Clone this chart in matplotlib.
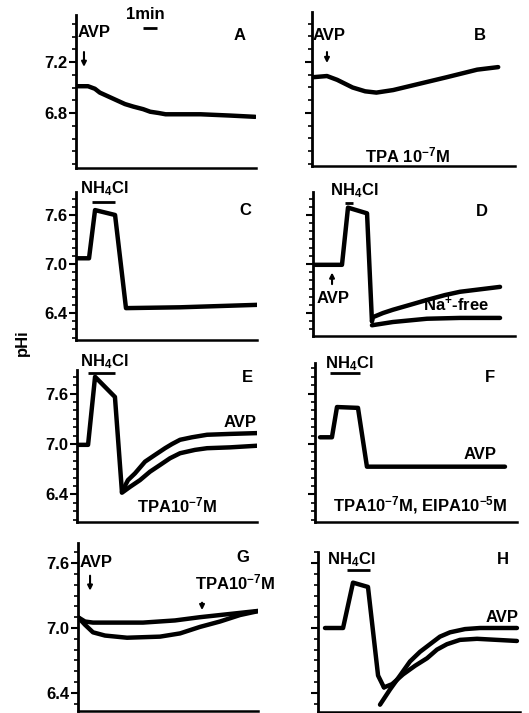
import matplotlib
matplotlib.use("Agg")
import matplotlib.pyplot as plt
from matplotlib.ticker import MultipleLocator

plt.rcParams['font.family'] = ['Liberation Sans', 'DejaVu Sans']
plt.rcParams['font.weight'] = 'bold'
plt.rcParams['mathtext.fontset'] = 'custom'
plt.rcParams['mathtext.rm'] = 'Liberation Sans:bold'
plt.rcParams['mathtext.it'] = 'Liberation Sans:bold'
plt.rcParams['mathtext.default'] = 'rm'
plt.rcParams['lines.solid_joinstyle'] = 'round'
plt.rcParams['lines.solid_capstyle'] = 'round'

# time in min, pH
a_t = [0.07, 0.86, 1.35, 1.7, 2.3, 2.9, 3.5, 4.1, 4.8, 5.3, 5.9, 6.4, 8.9, 11.0, 12.8]
a_ph = [7.01, 7.01, 6.99, 6.96, 6.93, 6.90, 6.87, 6.85, 6.83, 6.81, 6.80, 6.79, 6.79, 6.78, 6.77]

b_t = [0.0, 1.07, 1.8, 2.9, 3.8, 4.6, 5.8, 7.7, 9.6, 11.8, 13.3]
b_ph = [7.08, 7.09, 7.06, 7.00, 6.97, 6.96, 6.98, 7.03, 7.08, 7.14, 7.16]

c_t = [0.07, 0.93, 1.36, 2.79, 3.57, 7.43, 12.93]
c_ph = [7.07, 7.07, 7.66, 7.60, 6.46, 6.47, 6.50]

d_t = [0.14, 2.07, 2.5, 3.86, 4.21]
d_ph = [6.99, 6.99, 7.69, 7.62, 6.30]
d_avp_t = [4.21, 4.29, 5.0, 5.71, 6.93, 8.14, 9.43, 10.5, 11.93, 13.36]
d_avp_ph = [6.30, 6.35, 6.40, 6.44, 6.50, 6.56, 6.62, 6.66, 6.69, 6.72]
d_na_t = [4.21, 5.71, 8.14, 10.5, 13.36]
d_na_ph = [6.25, 6.29, 6.33, 6.34, 6.34]

e_t = [0.0, 0.79, 1.29, 2.71, 3.21]
e_ph = [6.99, 6.99, 7.80, 7.56, 6.43]
e_avp_t = [3.21, 3.64, 4.14, 4.86, 5.57, 6.29, 6.79, 7.36, 8.21, 9.29, 10.93, 12.93]
e_avp_ph = [6.43, 6.57, 6.65, 6.79, 6.87, 6.95, 7.00, 7.05, 7.08, 7.11, 7.12, 7.13]
e_tpa_t = [3.21, 3.79, 4.5, 5.21, 5.93, 6.64, 7.36, 8.43, 9.29, 10.93, 12.93]
e_tpa_ph = [6.42, 6.49, 6.57, 6.67, 6.75, 6.83, 6.89, 6.93, 6.95, 6.96, 6.98]

f_t = [0.36, 1.21, 1.57, 3.07, 3.71, 13.57]
f_ph = [7.08, 7.08, 7.44, 7.43, 6.73, 6.73]

g_t = [0.0, 0.5, 1.07, 4.64, 6.93, 8.71, 10.86, 13.0]
g_ph = [7.10, 7.06, 7.05, 7.05, 7.07, 7.10, 7.13, 7.16]
g_tpa_t = [0.0, 0.5, 1.07, 1.93, 3.5, 5.86, 7.29, 8.71, 10.14, 11.57, 13.0]
g_tpa_ph = [7.10, 7.03, 6.96, 6.93, 6.91, 6.92, 6.95, 7.01, 7.06, 7.12, 7.16]

h_t = [0.5, 1.79, 2.5, 3.57, 4.29, 4.71]
h_ph = [7.0, 7.0, 7.42, 7.38, 6.56, 6.45]
h_ctl_t = [4.71, 5.29, 6.07, 6.93, 7.79, 8.5, 9.21, 10.14, 11.36, 14.21]
h_ctl_ph = [6.45, 6.48, 6.57, 6.65, 6.72, 6.80, 6.85, 6.89, 6.90, 6.88]
h_avp_t = [4.43, 5.14, 5.86, 6.57, 7.29, 8.0, 8.71, 9.43, 10.5, 11.57, 14.21]
h_avp_ph = [6.29, 6.43, 6.56, 6.69, 6.78, 6.85, 6.92, 6.96, 6.99, 7.00, 7.00]

W, H = 529, 713
fig = plt.figure(figsize=(W / 100, H / 100), dpi=100)
LW = 3.2
FS = 12


def panel(L, T, R, B, y0, p0, k, ticks, labels=True):
    ax = fig.add_axes([L / W, 1 - B / H, (R - L) / W, (B - T) / H])
    ax.set_xlim(0, (R - L) / 14)
    ax.set_ylim(p0 - (B - y0) / k, p0 + (y0 - T) / k)
    for s in ['top', 'right']:
        ax.spines[s].set_visible(False)
    ax.spines['left'].set_linewidth(2)
    ax.spines['bottom'].set_linewidth(1.8)
    ax.set_xticks([])
    ax.set_yticks(ticks)
    ax.yaxis.set_minor_locator(MultipleLocator(0.1))
    ax.tick_params(axis='y', which='major', length=5, width=1.5, labelsize=FS, pad=1)
    ax.tick_params(axis='y', which='minor', length=3, width=1.2)
    if labels:
        ax.set_yticklabels([f'{v:.1f}' for v in ticks])
    else:
        ax.set_yticklabels([])
    ax.patch.set_alpha(0)
    return ax


def arrow(ax, t, y1, y2):
    ax.annotate('', xy=(t, y2), xytext=(t, y1),
                arrowprops=dict(arrowstyle='-|>', color='black', lw=1.5, mutation_scale=7))


def bar(ax, t1, t2, y):
    ax.plot([t1, t2], [y, y], color='black', lw=2, solid_capstyle='butt', clip_on=False)


kw = dict(fontsize=FS, fontweight='bold', va='center')

# A
ax = panel(76, 15, 256, 168, 62, 7.2, 127.5, [7.2, 6.8])
ax.plot(a_t, a_ph, color='black', lw=LW)
ax.text(0.14, 7.43, 'AVP', ha='left', **kw)
arrow(ax, 0.57, 7.30, 7.14)
ax.text(4.93, 7.57, '1min', ha='center', **kw)
bar(ax, 4.8, 5.8, 7.47)
ax.text(11.7, 7.41, 'A', ha='center', **kw)

# B
ax = panel(312, 12, 515, 166, 62, 7.2, 127.5, [7.2, 6.8], labels=False)
ax.plot(b_t, b_ph, color='black', lw=LW)
ax.text(0.07, 7.41, 'AVP', ha='left', **kw)
arrow(ax, 1.07, 7.30, 7.17)
ax.text(12.0, 7.41, 'B', ha='center', **kw)
ax.text(6.8, 6.47, r'TPA 10$^{-7}$M', ha='center', **kw)

# C
ax = panel(76, 192, 257, 340, 264, 7.0, 81.7, [7.6, 7.0, 6.4])
ax.plot(c_t, c_ph, color='black', lw=LW)
ax.text(0.29, 7.92, r'NH$_4$Cl', ha='left', **kw)
bar(ax, 1.14, 2.79, 7.76)
ax.text(12.07, 7.66, 'C', ha='center', **kw)

# D
ax = panel(313, 192, 515, 336, 264, 7.0, 81.7, [7.6, 7.0, 6.4], labels=False)
ax.plot(d_t, d_ph, color='black', lw=LW)
ax.plot(d_avp_t, d_avp_ph, color='black', lw=LW)
ax.plot(d_na_t, d_na_ph, color='black', lw=LW)
ax.text(1.21, 7.9, r'NH$_4$Cl', ha='left', **kw)
bar(ax, 2.29, 2.86, 7.75)
ax.text(12.07, 7.64, 'D', ha='center', **kw)
ax.text(0.29, 6.58, 'AVP', ha='left', **kw)
arrow(ax, 1.36, 6.72, 6.93)
ax.text(7.86, 6.50, r'Na$^{+}$-free', ha='left', **kw)

# E
ax = panel(77, 370, 257, 522, 444, 7.0, 84, [7.6, 7.0, 6.4])
ax.plot(e_t, e_ph, color='black', lw=LW)
ax.plot(e_avp_t, e_avp_ph, color='black', lw=LW)
ax.plot(e_tpa_t, e_tpa_ph, color='black', lw=LW)
ax.text(0.21, 7.98, r'NH$_4$Cl', ha='left', **kw)
bar(ax, 0.79, 2.71, 7.85)
ax.text(12.14, 7.79, 'E', ha='center', **kw)
ax.text(12.86, 7.26, 'AVP', ha='right', **kw)
ax.text(4.29, 6.27, r'TPA10$^{-7}$M', ha='left', **kw)

# F
ax = panel(315, 363, 517, 522, 444, 7.0, 84, [7.6, 7.0, 6.4], labels=False)
ax.plot(f_t, f_ph, color='black', lw=LW)
ax.text(0.71, 7.96, r'NH$_4$Cl', ha='left', **kw)
bar(ax, 1.07, 3.21, 7.85)
ax.text(12.5, 7.79, 'F', ha='center', **kw)
ax.text(13.0, 6.87, 'AVP', ha='right', **kw)
ax.text(1.29, 6.27, r'TPA10$^{-7}$M, EIPA10$^{-5}$M', ha='left', **kw)

# G
ax = panel(78, 543, 258, 711, 628, 7.0, 108, [7.6, 7.0, 6.4])
ax.plot(g_t, g_ph, color='black', lw=LW)
ax.plot(g_tpa_t, g_tpa_ph, color='black', lw=LW)
ax.text(0.14, 7.61, 'AVP', ha='left', **kw)
arrow(ax, 0.86, 7.51, 7.32)
ax.text(11.79, 7.65, 'G', ha='center', **kw)
ax.text(8.36, 7.42, r'TPA10$^{-7}$M', ha='left', **kw)
arrow(ax, 8.86, 7.26, 7.14)

# H
ax = panel(318, 552, 520, 712, 628, 7.0, 108, [7.6, 7.0, 6.4], labels=False)
ax.plot(h_t, h_ph, color='black', lw=LW)
ax.plot(h_ctl_t, h_ctl_ph, color='black', lw=LW)
ax.plot(h_avp_t, h_avp_ph, color='black', lw=LW)
ax.text(0.64, 7.63, r'NH$_4$Cl', ha='left', **kw)
bar(ax, 2.07, 3.71, 7.54)
ax.text(13.2, 7.63, 'H', ha='center', **kw)
ax.text(14.3, 7.10, 'AVP', ha='right', **kw)

fig.text(22 / W, 1 - 343 / H, 'pHi', rotation=90, ha='center', va='center',
         fontsize=FS, fontweight='bold')

fig.savefig('out.png', dpi=100)
